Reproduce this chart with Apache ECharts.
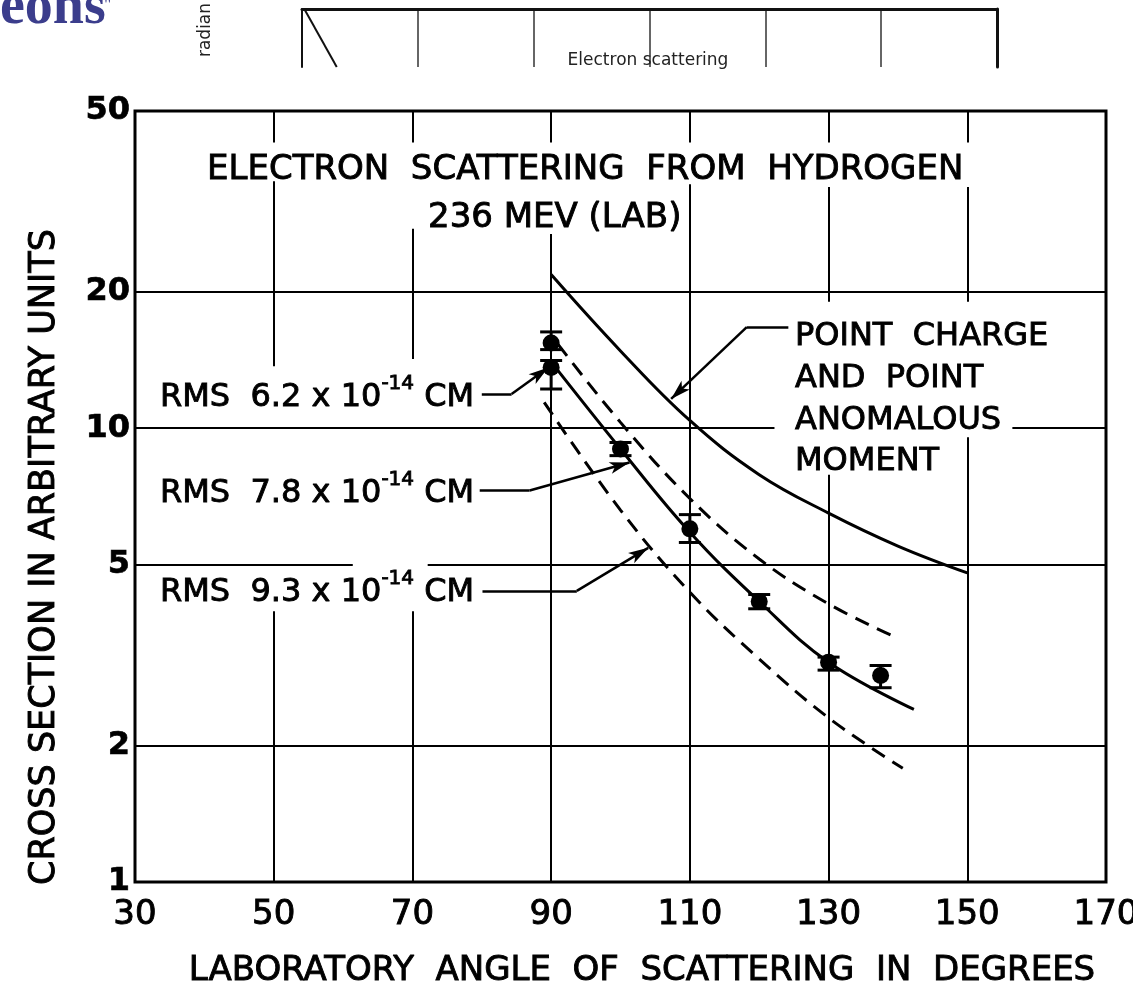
<!DOCTYPE html>
<html><head><meta charset="utf-8">
<script src="https://cdn.jsdelivr.net/npm/echarts@6/dist/echarts.min.js"></script>
<style>html,body{margin:0;padding:0;background:#fff}#c{width:1133px;height:990px}</style>
</head><body><div id="c"></div>
<script>
// ---- tick labels ----
const xTicks = [30, 50, 70, 90, 110, 130, 150, 170];
const yTicks = [1, 2, 5, 10, 20, 50];

// ---- curves (laboratory angle in degrees, cross section in arbitrary units) ----
const pointChargeAngle = [90, 100, 110, 120, 130, 140, 150];
const pointChargeValue = [21.8, 14.8, 10.4, 7.9, 6.5, 5.5, 4.8];

const rms62Angle = [91, 100, 110, 120, 130, 139];
const rms62Value = [15.3, 10.3, 7.0, 5.15, 4.1, 3.5];

const rms78Angle = [90, 100, 110, 120, 130, 142.3];
const rms78Value = [14.0, 9.0, 5.9, 4.15, 3.05, 2.4];

const rms93Angle = [89, 100, 110, 120, 130, 140.7];
const rms93Value = [11.4, 6.6, 4.35, 3.1, 2.3, 1.78];

// ---- measured points with error bars ----
const measAngle = [90, 90, 100, 110, 120, 130, 137.5];
const measValue = [15.4, 13.6, 9.0, 6.0, 4.15, 3.05, 2.85];
const measLow   = [14.9, 12.2, 8.7, 5.6, 4.0, 2.93, 2.68];
const measHigh  = [16.3, 14.1, 9.3, 6.45, 4.3, 3.13, 3.0];

// ---- cropped neighbouring figure at the top ----
const topPanelX = [0.02, 0.3];
const topPanelY = [1, 0];

const F = 'DejaVu Sans';
const pair = (xs, ys) => xs.map((x, i) => [x, ys[i]]);

// visible pieces of the grid lines (the drawing interrupts them behind the lettering)
const vGrid = [
  [50, 1, 3.95], [50, 13.7, 35], [50, 42.6, 50],
  [70, 1, 3.95], [70, 14.2, 27.5], [70, 42.6, 50],
  [90, 1, 26.8], [90, 42.6, 50],
  [110, 1, 34.5], [110, 42.6, 50],
  [130, 1, 7.9], [130, 19, 34], [130, 42.6, 50],
  [150, 1, 9.55], [150, 19, 34], [150, 42.6, 50]
];
const hGrid = [
  [2, 30, 170], [5, 30, 61.4], [5, 72.2, 170],
  [10, 30, 122.2], [10, 156.5, 170], [20, 30, 170]
];

const gridLines = [];
vGrid.forEach(([x, a, b]) => gridLines.push([{coord: [x, a]}, {coord: [x, b]}]));
hGrid.forEach(([y, a, b]) => gridLines.push([{coord: [a, y]}, {coord: [b, y]}]));

function leader(pts) {
  const segs = [];
  for (let i = 0; i < pts.length - 1; i++) {
    const last = i === pts.length - 2;
    segs.push([{coord: pts[i], symbol: 'none'}, {coord: pts[i + 1], symbol: last ? 'arrow' : 'none', symbolSize: [9, 20]}]);
  }
  return segs;
}
const leaders = [].concat(
  leader([[80.0, 11.9], [84.3, 11.9], [89.6, 13.6]]),
  leader([[79.7, 7.29], [86.9, 7.29], [101.3, 8.4]]),
  leader([[80.1, 4.38], [93.7, 4.38], [104.0, 5.45]]),
  leader([[124.2, 16.7], [118.2, 16.7], [107.3, 11.6]])
);

const chart = echarts.init(document.getElementById('c'), null, {renderer: 'canvas'});

const INK = {fill: '#000', stroke: '#000', lineWidth: 0.9};
const rich = {
  a: Object.assign({fontSize: 32, fontFamily: F, lineHeight: 48}, INK),
  s: Object.assign({fontSize: 20, fontFamily: F, lineHeight: 20, verticalAlign: 'top'}, INK)
};
function rms(v) { return '{a|RMS  ' + v + ' x 10}{s|-14}{a| CM}'; }
function txt(x, y, text, size, extra) {
  return Object.assign({type: 'text', z: 100, x: x, y: y,
    style: Object.assign({text: text, fontSize: size, fontFamily: F, align: 'left', verticalAlign: 'middle'}, INK)}, extra || {});
}

const option = {
  backgroundColor: '#fff',
  animation: false,
  grid: [
    {left: 135, right: 27, top: 111, bottom: 108, show: true, borderColor: '#000', borderWidth: 3,
     backgroundColor: 'transparent', containLabel: false, outerBoundsMode: 'none'},
    {left: 302, top: 9, width: 695, height: 58, show: false, containLabel: false, outerBoundsMode: 'none'}
  ],
  xAxis: [
    {type: 'value', min: 30, max: 170, interval: 20, gridIndex: 0,
     axisLine: {show: false}, axisTick: {show: false}, splitLine: {show: false},
     axisLabel: {fontSize: 34, fontFamily: F, color: '#000', margin: 16,
                 textBorderColor: '#000', textBorderWidth: 0.9,
                 formatter: v => xTicks.indexOf(v) >= 0 ? String(v) : ''}},
    {type: 'value', min: 0, max: 6, interval: 1, gridIndex: 1, position: 'top',
     axisLine: {show: true, onZero: false, lineStyle: {color: '#111', width: 3}}, axisTick: {show: false}, axisLabel: {show: false},
     splitLine: {show: true, lineStyle: {color: '#333', width: 1.5}}}
  ],
  yAxis: [
    {type: 'log', logBase: 10, min: 1, max: 50, gridIndex: 0,
     axisLine: {show: false}, axisTick: {show: false}, axisLabel: {show: false}, splitLine: {show: false}},
    {type: 'value', min: 0, max: 1, gridIndex: 1,
     axisLine: {show: true, onZero: false, lineStyle: {color: '#111', width: 2}}, axisTick: {show: false}, axisLabel: {show: false}, splitLine: {show: false}},
    {type: 'value', min: 0, max: 1, gridIndex: 1, position: 'right',
     axisLine: {show: true, onZero: false, lineStyle: {color: '#111', width: 3}}, axisTick: {show: false}, axisLabel: {show: false}, splitLine: {show: false}}
  ],
  series: [
    { // grid lines
      type: 'line', data: [[30, 1]], symbol: 'none', lineStyle: {opacity: 0}, z: 1, silent: true,
      markLine: {silent: true, symbol: 'none', animation: false, label: {show: false},
                 lineStyle: {color: '#000', width: 2, type: 'solid'}, emphasis: {disabled: true},
                 data: gridLines}
    },
    { // leader lines
      type: 'line', data: [[30, 1]], symbol: 'none', lineStyle: {opacity: 0}, z: 4, silent: true,
      markLine: {silent: true, animation: false, label: {show: false},
                 lineStyle: {color: '#000', width: 2.5, type: 'solid'}, emphasis: {disabled: true},
                 data: leaders}
    },
    {name: 'Point charge', type: 'line', data: pair(pointChargeAngle, pointChargeValue), smooth: 0.4,
     symbol: 'none', lineStyle: {color: '#000', width: 3}, z: 3},
    {name: 'RMS 6.2', type: 'line', data: pair(rms62Angle, rms62Value), smooth: 0.4,
     symbol: 'none', lineStyle: {color: '#000', width: 3, type: [15, 9]}, z: 3},
    {name: 'RMS 7.8', type: 'line', data: pair(rms78Angle, rms78Value), smooth: 0.4,
     symbol: 'none', lineStyle: {color: '#000', width: 3}, z: 3},
    {name: 'RMS 9.3', type: 'line', data: pair(rms93Angle, rms93Value), smooth: 0.4,
     symbol: 'none', lineStyle: {color: '#000', width: 3, type: [15, 9]}, z: 3},
    {name: 'error bars', type: 'custom', z: 5,
     data: measAngle.map((a, i) => [a, measValue[i], measLow[i], measHigh[i]]),
     encode: {x: 0, y: 1},
     renderItem: function (params, api) {
       const x = api.value(0);
       const pLo = api.coord([x, api.value(2)]);
       const pHi = api.coord([x, api.value(3)]);
       const w = 11, st = {stroke: '#000', lineWidth: 3};
       return {type: 'group', children: [
         {type: 'line', shape: {x1: pLo[0], y1: pLo[1], x2: pHi[0], y2: pHi[1]}, style: st},
         {type: 'line', shape: {x1: pLo[0] - w, y1: pLo[1], x2: pLo[0] + w, y2: pLo[1]}, style: st},
         {type: 'line', shape: {x1: pHi[0] - w, y1: pHi[1], x2: pHi[0] + w, y2: pHi[1]}, style: st}
       ]};
     }},
    {name: 'measured', type: 'scatter', data: pair(measAngle, measValue), symbol: 'circle', symbolSize: 17,
     itemStyle: {color: '#000', opacity: 1}, z: 6},
    {name: 'y ticks', type: 'scatter', data: yTicks.map(v => [30, v]), symbolSize: 0, clip: false,
     itemStyle: {color: '#000', opacity: 1}, silent: true,
     label: {show: true, position: 'left', distance: 5, formatter: p => String(p.value[1]),
             fontSize: 32, fontWeight: 'bold', fontFamily: F, color: '#000', opacity: 1,
             textBorderColor: '#000', textBorderWidth: 0.6}},
    {name: 'top panel', type: 'line', xAxisIndex: 1, yAxisIndex: 1, data: pair(topPanelX, topPanelY),
     symbol: 'none', lineStyle: {color: '#111', width: 2}}
  ],
  graphic: [
    {type: 'text', z: 100, x: 0, y: 9, style: {text: 'eons', fontSize: 56, fontWeight: 'bold', fontFamily: 'Liberation Serif', fill: '#3b3d8c', align: 'left', verticalAlign: 'middle'}},
    {type: 'text', z: 100, x: 104, y: 6, style: {text: '"', fontSize: 18, fontFamily: 'Liberation Serif', fill: '#3b3d8c', align: 'left', verticalAlign: 'middle'}},
    {type: 'text', z: 100, x: 206, y: 30, rotation: Math.PI / 2, style: {text: 'radian', fontSize: 17, fontFamily: F, fill: '#222', align: 'center', verticalAlign: 'middle'}},
    {type: 'text', z: 100, x: 648, y: 61, style: {text: 'Electron scattering', fontSize: 17, fontFamily: F, fill: '#222', align: 'center', verticalAlign: 'middle'}},

    txt(207, 170, 'ELECTRON  SCATTERING  FROM  HYDROGEN', 34),
    txt(428, 218, '236 MEV (LAB)', 34),

    {type: 'text', z: 100, x: 160, y: 398, style: {text: rms('6.2'), rich: rich, align: 'left', verticalAlign: 'middle'}},
    {type: 'text', z: 100, x: 160, y: 494, style: {text: rms('7.8'), rich: rich, align: 'left', verticalAlign: 'middle'}},
    {type: 'text', z: 100, x: 160, y: 593, style: {text: rms('9.3'), rich: rich, align: 'left', verticalAlign: 'middle'}},

    txt(795, 337, 'POINT  CHARGE', 32),
    txt(795, 379, 'AND  POINT', 32),
    txt(795, 421, 'ANOMALOUS', 32),
    txt(795, 462, 'MOMENT', 32),

    txt(45, 557, 'CROSS SECTION IN ARBITRARY UNITS', 35, {rotation: Math.PI / 2}),
    txt(642, 971, 'LABORATORY  ANGLE  OF  SCATTERING  IN  DEGREES', 34)
  ]
};
option.graphic[option.graphic.length - 2].style.align = 'center';
option.graphic[option.graphic.length - 1].style.align = 'center';
chart.setOption(option);
</script>
</body></html>
